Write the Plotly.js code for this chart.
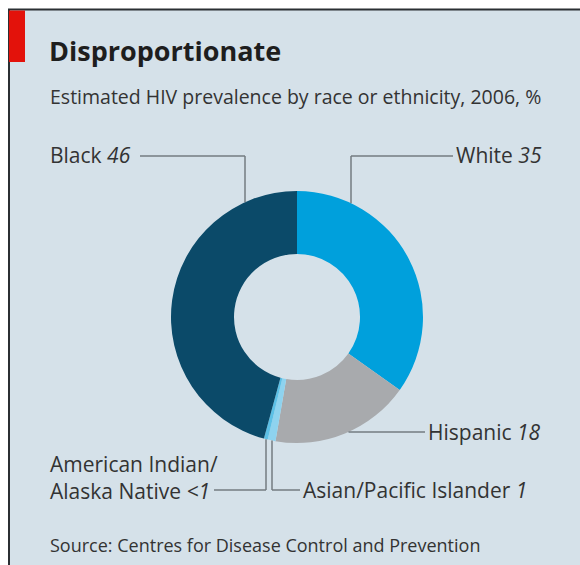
<!DOCTYPE html>
<html>
<head>
<meta charset="utf-8">
<script src="https://cdn.plot.ly/plotly-3.0.1.min.js"></script>
<style>
html,body{margin:0;padding:0;background:#ffffff;}
#chart{width:580px;height:565px;}
</style>
</head>
<body>
<div id="chart"></div>
<script>
// ---- data ----
const categories = ["White", "Hispanic", "Asian/Pacific Islander", "American Indian/Alaska Native", "Black"];
const values = [35, 18, 1, 0.5, 46];
const valueLabels = ["35", "18", "1", "<1", "46"];
const sliceColors = ["#00a0dc", "#a8aaad", "#8ed3ef", "#5cc0e6", "#0b4a69"];

// ---- geometry helpers (page pixels -> paper) ----
const W = 580, H = 565;
const px = x => x / W;
const py = y => 1 - y / H;
const cx = 297, cy = 317, R = 126;

const FONT = "Open Sans";
const TXT = "#333333";
const LINE = "#737b80";

const trace = {
  type: "pie",
  labels: categories,
  values: values,
  sort: false,
  direction: "clockwise",
  rotation: 0,
  hole: 0.5,
  textinfo: "none",
  hoverinfo: "label+value",
  marker: {colors: sliceColors, line: {width: 0}},
  domain: {x: [px(cx - R), px(cx + R)], y: [py(cy + R), py(cy - R)]},
  showlegend: false
};

const ringY = (x, top) => top ? cy - Math.sqrt(R*R - (x-cx)*(x-cx)) : cy + Math.sqrt(R*R - (x-cx)*(x-cx));
const ringX = (y) => cx + Math.sqrt(R*R - (y-cy)*(y-cy));

function seg(x0, y0, x1, y1) {
  return {type: "line", xref: "paper", yref: "paper", x0: px(x0), y0: py(y0), x1: px(x1), y1: py(y1),
          line: {color: LINE, width: 1.5}, layer: "above"};
}

const shapes = [
  {type: "rect", xref: "paper", yref: "paper", x0: 0, x1: 1, y0: py(9), y1: 1, fillcolor: "#ffffff", line: {width: 0}, layer: "below"},
  {type: "rect", xref: "paper", yref: "paper", x0: 0, x1: px(8), y0: 0, y1: 1, fillcolor: "#ffffff", line: {width: 0}, layer: "below"},
  {type: "line", xref: "paper", yref: "paper", x0: px(8), x1: 1, y0: py(9.5), y1: py(9.5), line: {color: "#2b2f33", width: 2}},
  {type: "line", xref: "paper", yref: "paper", x0: px(9), x1: px(9), y0: 0, y1: py(9), line: {color: "#2b2f33", width: 2}},
  {type: "rect", xref: "paper", yref: "paper", x0: px(9), x1: px(25), y0: py(62), y1: py(10.5), fillcolor: "#e3120b", line: {width: 0}},
  // Black
  seg(140, 156, 245, 156), seg(245, 156, 245, ringY(245, true)),
  // White
  seg(351, 156, 453, 156), seg(351, 156, 351, ringY(351, true)),
  // Hispanic
  seg(ringX(432), 432, 425, 432),
  // American Indian
  seg(214, 490, 266, 490), seg(266, 490, 266, ringY(266, false)),
  // Asian
  seg(272, 490, 300, 490), seg(272, 490, 272, ringY(272, false))
];

function ann(text, x, y, xanchor, size, opts) {
  return Object.assign({
    text: text, xref: "paper", yref: "paper", x: px(x), y: py(y),
    xanchor: xanchor, yanchor: "middle", showarrow: false, align: "left",
    font: {family: FONT, size: size, color: TXT}
  }, opts || {});
}

const annotations = [
  ann("<b>Disproportionate</b>", 47, 51, "left", 27, {font: {family: FONT, size: 27, color: "#1e1e1e"}}),
  ann("Estimated HIV prevalence by race or ethnicity, 2006, %", 48, 96, "left", 19.5),
  ann(categories[4] + " <i>" + valueLabels[4] + "</i>", 48, 155, "left", 21),
  ann(categories[0] + " <i>" + valueLabels[0] + "</i>", 454, 155, "left", 21),
  ann(categories[1] + " <i>" + valueLabels[1] + "</i>", 426, 432, "left", 21),
  ann("American Indian/<br>Alaska Native <i>" + valueLabels[3] + "</i>", 48, 477, "left", 21),
  ann(categories[2] + " <i>" + valueLabels[2] + "</i>", 301, 490, "left", 21),
  ann("Source: Centres for Disease Control and Prevention", 48, 545, "left", 18)
];

const layout = {
  width: W, height: H,
  margin: {l: 0, r: 0, t: 0, b: 0},
  paper_bgcolor: "#d5e1e9",
  plot_bgcolor: "#d5e1e9",
  shapes: shapes,
  annotations: annotations,
  showlegend: false
};

Plotly.newPlot("chart", [trace], layout, {displayModeBar: false, staticPlot: true});
</script>
</body>
</html>
